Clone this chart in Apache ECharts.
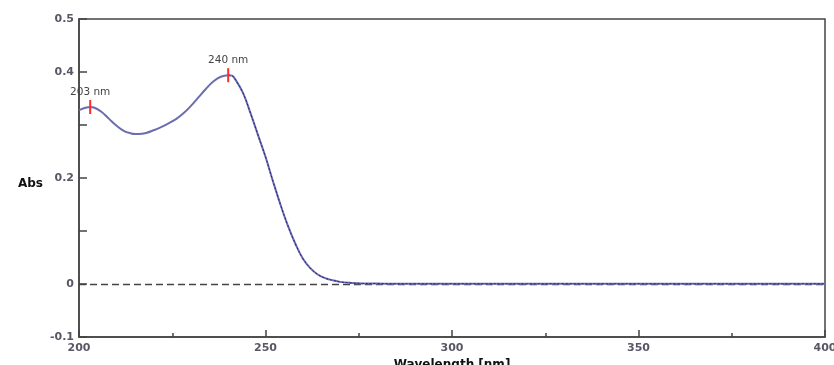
<!DOCTYPE html>
<html>
<head>
<meta charset="utf-8">
<script src="https://cdn.jsdelivr.net/npm/echarts@6/dist/echarts.min.js"></script>
<style>
  html, body { margin: 0; padding: 0; background: #fff; }
  #chart { width: 834px; height: 365px; }
</style>
</head>
<body>
<div id="chart"></div>
<script>
// wavelength (nm) and absorbance
const wavelengths = [200, 202, 203, 204, 206, 208, 210, 212, 214, 215, 216, 218, 220, 222, 224, 226, 228, 230, 232, 234, 236, 238, 240, 241, 242, 244, 246, 248, 250, 252, 254, 256, 258, 260, 262, 264, 266, 268, 270, 273, 276, 280, 285, 290, 300, 310, 320, 330, 340, 350, 360, 370, 380, 390, 400];
const absorbance = [0.328, 0.333, 0.334, 0.333, 0.325, 0.312, 0.299, 0.289, 0.284, 0.283, 0.283, 0.285, 0.290, 0.296, 0.303, 0.311, 0.322, 0.336, 0.352, 0.368, 0.382, 0.391, 0.394, 0.393, 0.385, 0.360, 0.322, 0.281, 0.240, 0.194, 0.150, 0.110, 0.076, 0.048, 0.030, 0.018, 0.011, 0.007, 0.004, 0.002, 0.001, 0.0008, 0.0005, 0.0006, 0.0004, 0.0005, 0.0003, 0.0006, 0.0004, 0.0005, 0.0003, 0.0004, 0.0003, 0.0004, 0.0003];

// peaks marked on the curve
const peakWavelengths = [203, 240];
const peakAbs = [0.334, 0.394];
const peakLabels = ['203 nm', '240 nm'];

// y tick labels that are printed (others are unlabeled ticks)
const yTickLabels = ['-0.1', '0', '0.2', '0.4', '0.5'];

const chart = echarts.init(document.getElementById('chart'));

const points = wavelengths.map((w, i) => [w, absorbance[i]]);
const darkPart = points.map((p) => (p[0] >= 240 ? p : [p[0], null]));

const axisColor = '#444';
const font = 'DejaVu Sans, Verdana, sans-serif';
const labelStyle = {
  color: '#575766',
  fontSize: 11,
  fontWeight: 'bold',
  fontFamily: font,
};

const option = {
  backgroundColor: '#fff',
  animation: false,
  grid: {
    left: 79,
    right: 9,
    top: 19,
    bottom: 28,
    outerBoundsMode: 'none',
    containLabel: false,
    show: true,
    borderColor: axisColor,
    borderWidth: 1.5,
  },
  xAxis: {
    type: 'value',
    min: 200,
    max: 400,
    interval: 50,
    name: 'Wavelength [nm]',
    nameLocation: 'middle',
    nameGap: 18,
    nameTextStyle: {
      color: '#111',
      fontSize: 12,
      fontWeight: 'bold',
      fontFamily: font,
    },
    axisLine: { onZero: false, lineStyle: { color: axisColor, width: 1.5 } },
    axisTick: { inside: true, length: 7, lineStyle: { color: axisColor, width: 1.5 } },
    minorTick: { show: true, splitNumber: 2, length: 4, lineStyle: { color: axisColor, width: 1.5 } },
    axisLabel: Object.assign({ margin: 6 }, labelStyle),
    splitLine: { show: false },
  },
  yAxis: {
    type: 'value',
    min: -0.1,
    max: 0.5,
    interval: 0.1,
    name: 'Abs',
    nameLocation: 'middle',
    nameRotate: 0,
    nameGap: 36,
    nameTextStyle: {
      color: '#111',
      fontSize: 12,
      fontWeight: 'bold',
      fontFamily: font,
      verticalAlign: 'top',
    },
    axisLine: { onZero: false, lineStyle: { color: axisColor, width: 1.5 } },
    axisTick: { inside: true, length: 8, lineStyle: { color: axisColor, width: 1.5 } },
    axisLabel: Object.assign({
      margin: 5,
      showMinLabel: true,
      showMaxLabel: true,
      formatter: (v) => {
        const s = Math.abs(v) < 1e-9 ? '0' : v.toFixed(1);
        return yTickLabels.includes(s) ? s : '';
      },
    }, labelStyle),
    splitLine: { show: false },
  },
  series: [
    {
      type: 'line',
      data: points,
      smooth: 0.4,
      symbol: 'none',
      lineStyle: { color: '#6c6cb0', width: 2 },
      z: 3,
      markLine: {
        silent: true,
        symbol: 'none',
        label: { show: false },
        lineStyle: { color: '#444', width: 1.3, type: [7, 4] },
        data: [{ yAxis: 0 }],
        z: 2,
      },
      markPoint: {
        symbol: 'rect',
        symbolSize: [2, 14],
        itemStyle: { color: '#ff2a2a' },
        label: {
          show: true,
          position: 'top',
          distance: 2,
          color: '#444',
          fontSize: 10.5,
          fontFamily: font,
          formatter: (p) => p.name,
        },
        data: peakWavelengths.map((w, i) => ({ coord: [w, peakAbs[i]], name: peakLabels[i] })),
      },
    },
    {
      type: 'line',
      data: darkPart,
      smooth: 0.4,
      symbol: 'none',
      connectNulls: false,
      lineStyle: { color: '#26267a', width: 1, type: [2, 2] },
      z: 4,
    },
  ],
};

chart.setOption(option);
</script>
</body>
</html>
